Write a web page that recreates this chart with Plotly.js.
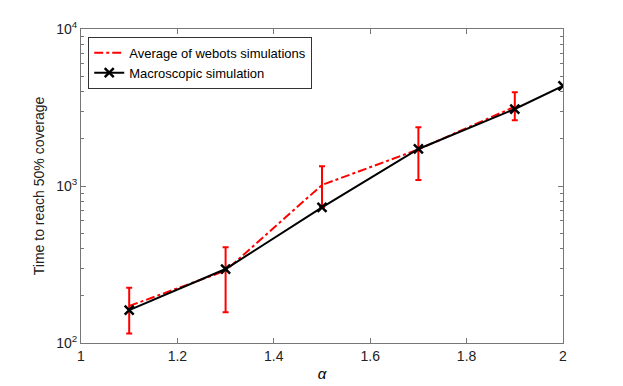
<!DOCTYPE html>
<html>
<head>
<meta charset="utf-8">
<script src="https://cdn.plot.ly/plotly-3.0.1.min.js"></script>
<style>
  body { margin: 0; background: #fff; }
  #myPlot { width: 623px; height: 386px; }
</style>
</head>
<body>
<div id="myPlot"></div>
<script>
// valores
const alphaWebots = [1.1, 1.3, 1.5, 1.7, 1.9];
const tiempoWebots = [172, 289, 1015, 1710, 3200];
const errorArriba = [225, 407, 1335, 2365, 3953];
const errorAbajo = [115, 157, 735, 1092, 2620];

const alphaMacro = [1.1, 1.3, 1.5, 1.7, 1.9, 2.0];
const tiempoMacro = [162, 296, 731, 1721, 3093, 4335];

const yTickVals = [100, 1000, 10000];
const yTickText = ['10<sup>2</sup>', '10<sup>3</sup>', '10<sup>4</sup>'];

let minorVals = [];
for (let d = 100; d < 10000; d *= 10) {
  for (let k = 2; k <= 9; k++) minorVals.push(k * d);
}

const traceWebots = {
  x: alphaWebots,
  y: tiempoWebots,
  name: 'Average of webots simulations',
  mode: 'lines',
  type: 'scatter',
  line: { color: '#ff0000', width: 2, dash: 'dashdot' },
  error_y: {
    type: 'data',
    symmetric: false,
    array: tiempoWebots.map((v, i) => errorArriba[i] - v),
    arrayminus: tiempoWebots.map((v, i) => v - errorAbajo[i]),
    color: '#ff0000',
    thickness: 2,
    width: 3
  }
};

const traceMacro = {
  x: alphaMacro,
  y: tiempoMacro,
  name: 'Macroscopic simulation',
  mode: 'lines+markers',
  type: 'scatter',
  line: { color: '#000000', width: 2 },
  marker: { symbol: 'x-thin', size: 9, color: '#000', line: { color: '#000', width: 2.5 } }
};

const layout = {
  width: 623,
  height: 386,
  margin: { l: 81, r: 60, t: 29, b: 43 },
  paper_bgcolor: '#fff',
  plot_bgcolor: '#fff',
  font: { family: 'Liberation Sans, Arial, sans-serif', size: 14, color: '#222' },
  showlegend: true,
  legend: {
    x: 0.015, y: 0.975, xanchor: 'left', yanchor: 'top',
    bgcolor: '#fff', bordercolor: '#333', borderwidth: 1,
    font: { size: 13, color: '#000' },
    tracegroupgap: 0
  },
  xaxis: {
    title: { text: '<i>α</i>', font: { size: 15, color: '#000' }, standoff: 5 },
    range: [1, 2],
    tickvals: [1, 1.2, 1.4, 1.6, 1.8, 2],
    ticktext: ['1', '1.2', '1.4', '1.6', '1.8', '2'],
    ticks: 'inside', ticklen: 5, tickcolor: '#777',
    showline: true, linecolor: '#777', linewidth: 1,
    mirror: 'ticks', showgrid: false, zeroline: false
  },
  yaxis: {
    title: { text: 'Time to reach 50% coverage', font: { size: 14, color: '#222' }, standoff: 8 },
    type: 'log',
    range: [2, 4],
    tickvals: yTickVals,
    ticktext: yTickText,
    ticks: 'inside', ticklen: 5, tickcolor: '#777',
    minor: { tickvals: minorVals, ticks: 'inside', ticklen: 3, tickcolor: '#777', showgrid: false },
    showline: true, linecolor: '#777', linewidth: 1,
    mirror: 'ticks', showgrid: false, zeroline: false
  }
};

Plotly.newPlot('myPlot', [traceWebots, traceMacro], layout, { displayModeBar: false });
</script>
</body>
</html>
